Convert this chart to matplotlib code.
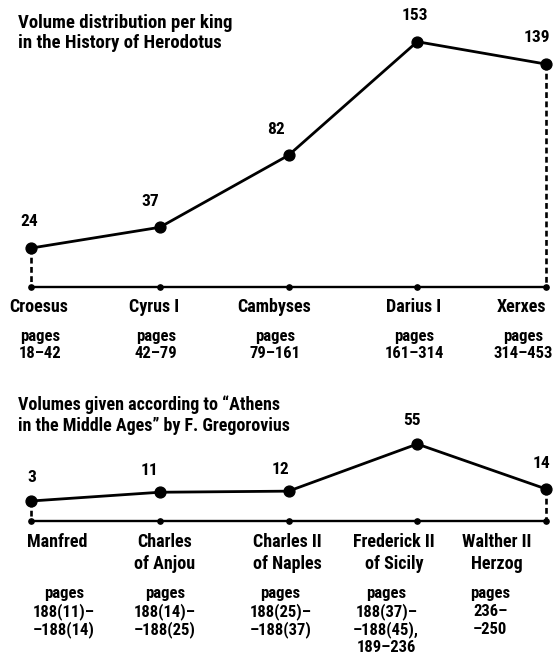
import matplotlib
matplotlib.use("Agg")
import matplotlib.pyplot as plt
from matplotlib import font_manager

# -- Data ----------------------------------------------------------------------

kings_top = ["Croesus", "Cyrus I", "Cambyses", "Darius I", "Xerxes"]
volumes_top = [24, 37, 82, 153, 139]
pages_top = ["18\u201342", "42\u201379", "79\u2013161", "161\u2013314", "314\u2013453"]

kings_bottom = ["Manfred", "Charles\nof Anjou", "Charles II\nof Naples",
                "Frederick II\nof Sicily", "Walther II\nHerzog"]
volumes_bottom = [3, 11, 12, 55, 14]
pages_bottom = ["188(11)\u2013\n\u2013188(14)", "188(14)\u2013\n\u2013188(25)",
                "188(25)\u2013\n\u2013188(37)", "188(37)\u2013\n\u2013188(45),\n189\u2013236",
                "236\u2013\n\u2013250"]

title_top = ["Volume distribution per king", "in the History of Herodotus"]
title_bottom = ["Volumes given according to \u201cAthens",
                "in the Middle Ages\u201d by F. Gregorovius"]

# -- Style ---------------------------------------------------------------------

installed = {f.name for f in font_manager.fontManager.ttflist}
narrow = [n for n in ["Roboto Condensed", "Archivo Narrow", "Barlow Semi Condensed"]
          if n in installed]
plt.rcParams["font.family"] = narrow[:1] + ["DejaVu Sans"]
plt.rcParams["font.weight"] = "bold"

W, H = 558, 657
fig = plt.figure(figsize=(W / 100, H / 100), dpi=100)
fig.patch.set_facecolor("white")

X0, DX = 31, 128.75          # first point and spacing, px
xlim = (-X0 / DX, (W - X0) / DX)


def panel(top_px, bot_px, zero_px, px_per_unit):
    ax = fig.add_axes([0, 1 - bot_px / H, 1, (bot_px - top_px) / H])
    ax.set_xlim(*xlim)
    ax.set_ylim(-(bot_px - zero_px) / px_per_unit, (zero_px - top_px) / px_per_unit)
    ax.axis("off")
    return ax


def draw(ax, vals, base, names, pages, name_dx, page_dx, lab_dx, lab_dy,
         name_y, page_y, name_step, page_step, stems):
    xs = list(range(len(vals)))
    # baseline with small dots
    ax.plot([xs[0], xs[-1]], [base, base], color="black", lw=1.7,
            solid_capstyle="butt", zorder=2)
    ax.plot(xs, [base] * len(xs), "o", color="black", ms=3.8, zorder=3)
    # dashed stems from the end points down to the baseline
    for i in stems:
        ax.plot([i, i], [vals[i], base], color="black", lw=1.9,
                dashes=(2.2, 1.3), zorder=2)
    ax.plot(xs, vals, "-o", color="black", lw=2.0, ms=7.8, zorder=4)
    for i, v in enumerate(vals):
        ax.annotate(str(v), (i, v), xytext=(lab_dx[i], lab_dy[i]),
                    textcoords="offset pixels", ha="center", va="center",
                    fontsize=12.5)
        for k, line in enumerate(names[i].split("\n")):
            ax.annotate(line, (i, base), xytext=(name_dx[i], -(name_y + k * name_step)),
                        textcoords="offset pixels", ha="center", va="baseline",
                        fontsize=13)
        for k, line in enumerate(["pages"] + pages[i].split("\n")):
            ax.annotate(line, (i, base), xytext=(page_dx[i], -(page_y + k * page_step)),
                        textcoords="offset pixels", ha="center", va="baseline",
                        fontsize=12)


# ---- Herodotus ---------------------------------------------------------------
ax1 = panel(0, 380, 286.5, 1.6)
draw(ax1, volumes_top, 0, kings_top, pages_top,
     name_dx=[8, -6, -14, -4, -25], page_dx=[9, -4, -13, -3, -23],
     lab_dx=[-2, -10, -12, -2, -9], lab_dy=[27, 26, 26, 26, 27],
     name_y=25, page_y=55, name_step=22, page_step=17, stems=[0, 4])

# ---- Gregorovius -------------------------------------------------------------
ax2 = panel(380, 657, 504.3, 1.096)
draw(ax2, volumes_bottom, -15.2, kings_bottom, pages_bottom,
     name_dx=[26, 5, -1, -23, -49], page_dx=[33, 5, -8, -31, -56],
     lab_dx=[1, -10, -8, -5, -5], lab_dy=[24, 22, 22, 24, 25],
     name_y=26, page_y=77, name_step=22, page_step=18, stems=[0, 4])

for k, line in enumerate(title_top):
    fig.text(18 / W, 1 - (28 + 20 * k) / H, line, fontsize=13.5, va="baseline")
for k, line in enumerate(title_bottom):
    fig.text(18 / W, 1 - (410 + 21 * k) / H, line, fontsize=13, va="baseline")

fig.savefig("out.png", dpi=100, facecolor="white")
